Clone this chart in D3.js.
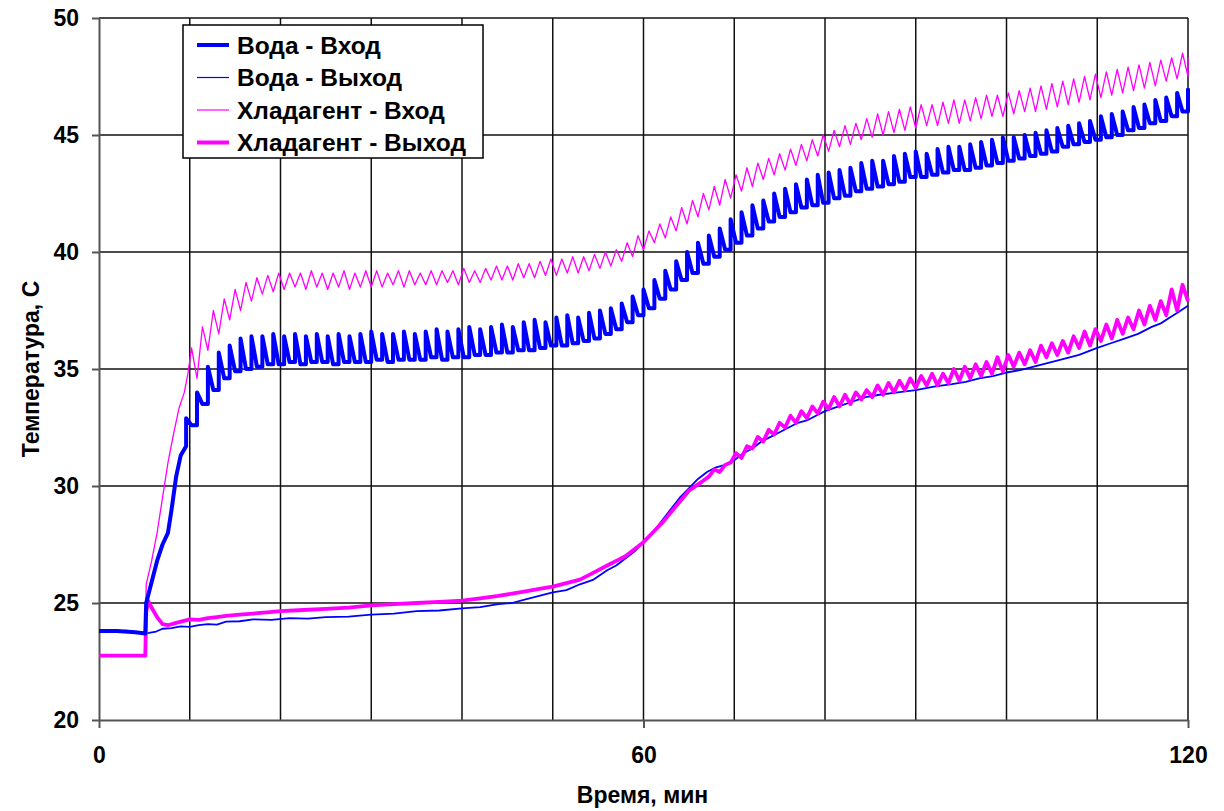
<!DOCTYPE html>
<html>
<head>
<meta charset="utf-8">
<script src="https://cdn.jsdelivr.net/npm/d3@7"></script>
<style>
  body { margin: 0; background: #fff; }
  svg text { font-family: "Liberation Sans", Arial, sans-serif; font-weight: bold; fill: #000; }
</style>
</head>
<body>
<svg id="chart" width="1224" height="811"></svg>
<script>
'use strict'

// x: время, мин ; y: температура, C
var xTicks = [0, 60, 120]
var yTicks = [20, 25, 30, 35, 40, 45, 50]
var seriesNames = ['Вода - Вход', 'Вода - Выход', 'Хладагент - Вход', 'Хладагент - Выход']

// Вода - Вход : start-up part, then teeth (sharp rise at tooth time, fall to next low)
var waterInLead = [[0,23.8],[2,23.8],[4,23.75],[5.1,23.7],[5.2,25.0],[5.8,25.9],[6.4,26.8],[7.0,27.5],[7.6,28.0],[8.0,29.0],[8.5,30.4],[9.0,31.3]]
var waterInStart = 9.6, waterInStep = 1.2
var waterInLo = [31.7,32.6,33.5,34.1,34.6,34.9,35.0,35.1,35.2,35.2,35.3,35.2,35.3,35.3,35.2,35.3,35.3,35.3,35.4,35.3,
  35.4,35.4,35.4,35.5,35.4,35.5,35.5,35.6,35.6,35.7,35.7,35.8,35.8,35.9,36.0,36.0,36.1,36.2,36.3,36.5,
  36.7,37.0,37.3,37.6,38.0,38.4,38.8,39.1,39.5,39.8,40.1,40.4,40.7,41.0,41.3,41.5,41.7,41.9,42.0,42.1,
  42.3,42.4,42.6,42.7,42.8,42.9,43.0,43.2,43.2,43.3,43.4,43.5,43.5,43.6,43.7,43.8,43.9,44.0,44.1,44.2,
  44.3,44.5,44.6,44.7,44.8,44.9,45.0,45.2,45.3,45.5,45.6,45.8,46.0]
var waterInHi = [32.9,34.0,35.1,35.7,36.0,36.3,36.4,36.4,36.5,36.4,36.5,36.4,36.5,36.4,36.5,36.4,36.5,36.6,36.5,36.5,
  36.6,36.5,36.6,36.7,36.6,36.7,36.8,36.7,36.8,36.9,36.8,37.0,37.1,37.0,37.2,37.3,37.2,37.4,37.5,37.6,
  37.8,38.1,38.4,38.8,39.2,39.6,40.0,40.4,40.7,41.0,41.4,41.7,42.0,42.2,42.5,42.7,42.9,43.1,43.3,43.4,
  43.5,43.6,43.8,43.9,43.9,44.1,44.2,44.3,44.2,44.4,44.5,44.5,44.6,44.7,44.8,44.9,44.9,45.0,45.1,45.2,
  45.3,45.4,45.5,45.6,45.8,45.9,46.0,46.2,46.3,46.5,46.6,46.8,47.0]

// Вода - Выход
var waterOut = [[0,23.8],[1,23.83],[2,23.78],[3,23.82],[4,23.75],[5.1,23.7],[5.5,23.72],[6.3,23.78],[7,23.9],[8,23.93],
  [9,24.0],[10,23.98],[11,24.05],[12,24.1],[13,24.08],[14,24.2],[15.5,24.22],[17,24.3],[19,24.28],[21,24.35],
  [23,24.33],[25,24.4],[27.5,24.42],[30,24.5],[32.5,24.55],[35,24.65],[37.5,24.68],[40,24.77],[42,24.82],[44,24.95],
  [45.5,25.0],[47,25.15],[48.5,25.3],[50,25.45],[51.5,25.55],[53,25.8],[54.5,26.0],[56,26.4],[57,26.6],[58,26.9],
  [59,27.2],[60,27.6],[61,28.0],[62,28.5],[63,29.0],[64,29.5],[65,29.9],[66,30.3],[67,30.6],[68,30.8],
  [69,30.9],[70,31.1],[71,31.4],[72,31.6],[73,31.9],[74,32.1],[75,32.3],[76,32.5],[77,32.7],[78,32.8],
  [79,33.0],[80,33.2],[81.5,33.4],[83,33.6],[84.5,33.8],[86,33.9],[88,34.0],[90,34.1],[92,34.25],[94,34.35],
  [95.5,34.45],[97,34.6],[98.5,34.7],[100,34.85],[101.5,34.95],[103,35.1],[104.5,35.25],[106,35.4],[108,35.6],[110,35.9],
  [111.5,36.1],[113,36.3],[114.5,36.5],[116,36.8],[117,36.95],[118,37.2],[119,37.45],[120,37.7]]

// Хладагент - Вход : start-up part, then peaks on the grid and lows half a step later
var refInLead = [[0,22.75],[5.1,22.75],[5.2,25.8],[5.8,26.8],[6.4,28.0],[7.0,29.5],[7.6,31.0],[8.2,32.2],[8.8,33.3],[9.4,34.0],[9.8,34.8]]
var refInStart = 10.2, refInStep = 1.2
var refInLo = [34.6,35.8,36.5,37.1,37.5,37.9,38.2,38.3,38.4,38.5,38.4,38.5,38.4,38.5,38.4,38.5,38.5,38.5,38.6,38.5,
  38.6,38.6,38.6,38.7,38.6,38.7,38.7,38.8,38.8,38.8,38.9,38.9,39.0,39.0,39.1,39.1,39.2,39.3,39.4,39.6,
  39.8,40.1,40.4,40.6,40.9,41.2,41.5,41.8,42.0,42.3,42.6,42.8,43.1,43.3,43.5,43.7,43.9,44.1,44.3,44.5,
  44.6,44.8,44.9,45.0,45.1,45.2,45.3,45.4,45.4,45.5,45.5,45.6,45.7,45.8,45.8,45.9,46.0,46.0,46.1,46.2,
  46.3,46.4,46.5,46.6,46.7,46.8,46.9,47.0,47.1,47.3,47.4,47.5]
var refInHi = [35.9,36.8,37.5,38.0,38.4,38.7,38.9,39.0,39.1,39.1,39.1,39.2,39.1,39.1,39.2,39.1,39.2,39.2,39.1,39.2,
  39.2,39.1,39.2,39.2,39.2,39.3,39.2,39.3,39.4,39.4,39.5,39.5,39.6,39.7,39.7,39.8,39.8,39.9,40.0,40.1,
  40.4,40.7,40.9,41.2,41.5,41.9,42.2,42.5,42.8,43.1,43.3,43.6,43.8,44.0,44.2,44.4,44.6,44.8,45.0,45.2,
  45.4,45.5,45.7,45.9,46.0,46.1,46.2,46.3,46.3,46.4,46.5,46.5,46.6,46.7,46.7,46.8,46.9,47.0,47.1,47.2,
  47.3,47.4,47.5,47.6,47.7,47.8,47.9,48.0,48.1,48.2,48.3,48.5]
var refInEnd = [120, 48.3]

// Хладагент - Выход : smooth part, then sampled every 0.6 min
var refOutLead = [[0,22.75],[5.1,22.75],[5.2,24.6],[5.4,25.1],[5.8,24.8],[6.4,24.4],[7.0,24.1],[7.6,24.05],[8.5,24.15],[10,24.3],
  [11,24.28],[12,24.35],[13,24.4],[14,24.45],[15.5,24.5],[17,24.55],[18.5,24.6],[20,24.65],[22.5,24.7],[25,24.75],
  [27.5,24.8],[30,24.9],[32.5,24.95],[35,25.0],[37.5,25.05],[40,25.1],[42,25.2],[44,25.3],[45.5,25.4],[47,25.5],
  [48.5,25.6],[50,25.7],[51.5,25.85],[53,26.0],[54.5,26.3],[56,26.6],[57,26.8],[58,27.0],[59,27.3],[60,27.6],
  [61,28.0],[62,28.4],[63.5,29.1],[65,29.8],[66.5,30.2]]
var refOutStart = 67.2, refOutStep = 0.6
var refOutTail = [30.4,30.7,30.6,30.9,31.0,31.4,31.2,31.7,31.6,32.1,31.9,32.4,32.2,32.7,32.5,33.0,32.7,33.2,32.9,33.4,
  33.1,33.6,33.3,33.8,33.4,33.9,33.5,34.0,33.7,34.1,33.8,34.3,33.9,34.4,34.0,34.5,34.1,34.6,34.2,34.7,
  34.3,34.8,34.3,34.8,34.4,35.0,34.5,35.1,34.6,35.2,34.7,35.3,34.8,35.5,34.9,35.6,35.1,35.7,35.2,35.8,
  35.3,36.0,35.5,36.1,35.6,36.2,35.7,36.4,35.9,36.6,36.0,36.7,36.2,36.9,36.3,37.1,36.5,37.2,36.7,37.5,
  36.9,37.7,37.1,37.9,37.3,38.4,37.5,38.6,37.9]

var svg = d3.select('#chart'),
    margin = {top: 18, right: 36, bottom: 91, left: 99},
    width = +svg.attr('width') - margin.left - margin.right,
    height = +svg.attr('height') - margin.top - margin.bottom

var g = svg.append('g').attr('transform', 'translate(' + margin.left + ',' + margin.top + ')')

var x = d3.scaleLinear().domain([0, 120]).range([0, width])
var y = d3.scaleLinear().domain([20, 50]).range([height, 0])

// build point lists
// teeth: vertical rise to the peak, quick fall to the next low, then a flat base
var waterIn = waterInLead.slice()
waterInLo.forEach((lo, i) => {
  let t = waterInStart + i * waterInStep
  waterIn.push([t, lo], [t, waterInHi[i]])
  if (i + 1 < waterInLo.length)
    waterIn.push([t + waterInStep * 0.5, waterInLo[i + 1]])
})

var refIn = refInLead.slice()
refInHi.forEach((hi, i) => {
  let t = refInStart + i * refInStep
  refIn.push([t, hi], [t + refInStep / 2, refInLo[i]])
})
refIn.push(refInEnd)

var refOut = refOutLead.slice()
refOutTail.forEach((v, i) => refOut.push([refOutStart + i * refOutStep, v]))

// grid
g.append('g').selectAll('line')
  .data(d3.range(10, 121, 10))
  .enter().append('line')
    .attr('x1', d => x(d)).attr('x2', d => x(d))
    .attr('y1', 0).attr('y2', height)
    .attr('stroke', '#111').attr('stroke-width', 1.5)

g.append('g').selectAll('line')
  .data(yTicks.slice(1))
  .enter().append('line')
    .attr('x1', 0).attr('x2', width)
    .attr('y1', d => y(d)).attr('y2', d => y(d))
    .attr('stroke', '#111').attr('stroke-width', 1.5)

// axes
var yAxis = g.append('g')
  .call(d3.axisLeft(y).tickValues(yTicks).tickSize(7).tickPadding(13).tickSizeOuter(0))
var xAxis = g.append('g')
  .attr('transform', 'translate(0,' + height + ')')
  .call(d3.axisBottom(x).tickValues(xTicks).tickSize(8).tickPadding(19).tickSizeOuter(0))

;[yAxis, xAxis].forEach(a => {
  a.select('.domain').attr('stroke', '#555').attr('stroke-width', 2)
  a.selectAll('.tick line').attr('stroke', '#555').attr('stroke-width', 2)
  a.selectAll('.tick text').style('font-size', '23px').style('font-weight', 'bold')
    .attr('fill', '#000').style('font-family', '"Liberation Sans", Arial, sans-serif')
})

// series
var line = d3.line().x(d => x(d[0])).y(d => y(d[1]))

var series = [
  {data: waterOut, color: '#0000ff', w: 1.8},
  {data: refIn,    color: '#ff00ff', w: 1.3},
  {data: refOut,   color: '#ff00ff', w: 3.8},
  {data: waterIn,  color: '#0000ff', w: 4}
]
g.append('g').selectAll('path')
  .data(series)
  .enter().append('path')
    .attr('d', d => line(d.data))
    .attr('fill', 'none')
    .attr('stroke', d => d.color)
    .attr('stroke-width', d => d.w)
    .attr('stroke-linejoin', 'round')

// legend
var legend = svg.append('g').attr('transform', 'translate(183,25)')
legend.append('rect')
  .attr('width', 300).attr('height', 133)
  .attr('fill', '#fff').attr('stroke', '#000').attr('stroke-width', 1.5)

var legendStyle = [
  {color: '#0000ff', w: 4},
  {color: '#0000ff', w: 1.2},
  {color: '#ff00ff', w: 1.2},
  {color: '#ff00ff', w: 4}
]
var items = legend.selectAll('g.item')
  .data(seriesNames)
  .enter().append('g')
    .attr('class', 'item')
    .attr('transform', (d, i) => 'translate(0,' + (20 + i * 32.5) + ')')
items.append('line')
  .attr('x1', 14).attr('x2', 46).attr('y1', 0).attr('y2', 0)
  .attr('stroke', (d, i) => legendStyle[i].color)
  .attr('stroke-width', (d, i) => legendStyle[i].w)
items.append('text')
  .attr('x', 54).attr('dy', '0.35em')
  .style('font-size', '24.5px')
  .text(d => d)

// titles
svg.append('text')
  .attr('x', margin.left + width / 2 - 1).attr('y', 803)
  .attr('text-anchor', 'middle')
  .style('font-size', '23px')
  .text('Время, мин')

svg.append('text')
  .attr('transform', 'translate(39,' + (margin.top + height / 2) + ') rotate(-90)')
  .attr('text-anchor', 'middle')
  .style('font-size', '23px')
  .text('Температура, С')
</script>
</body>
</html>
